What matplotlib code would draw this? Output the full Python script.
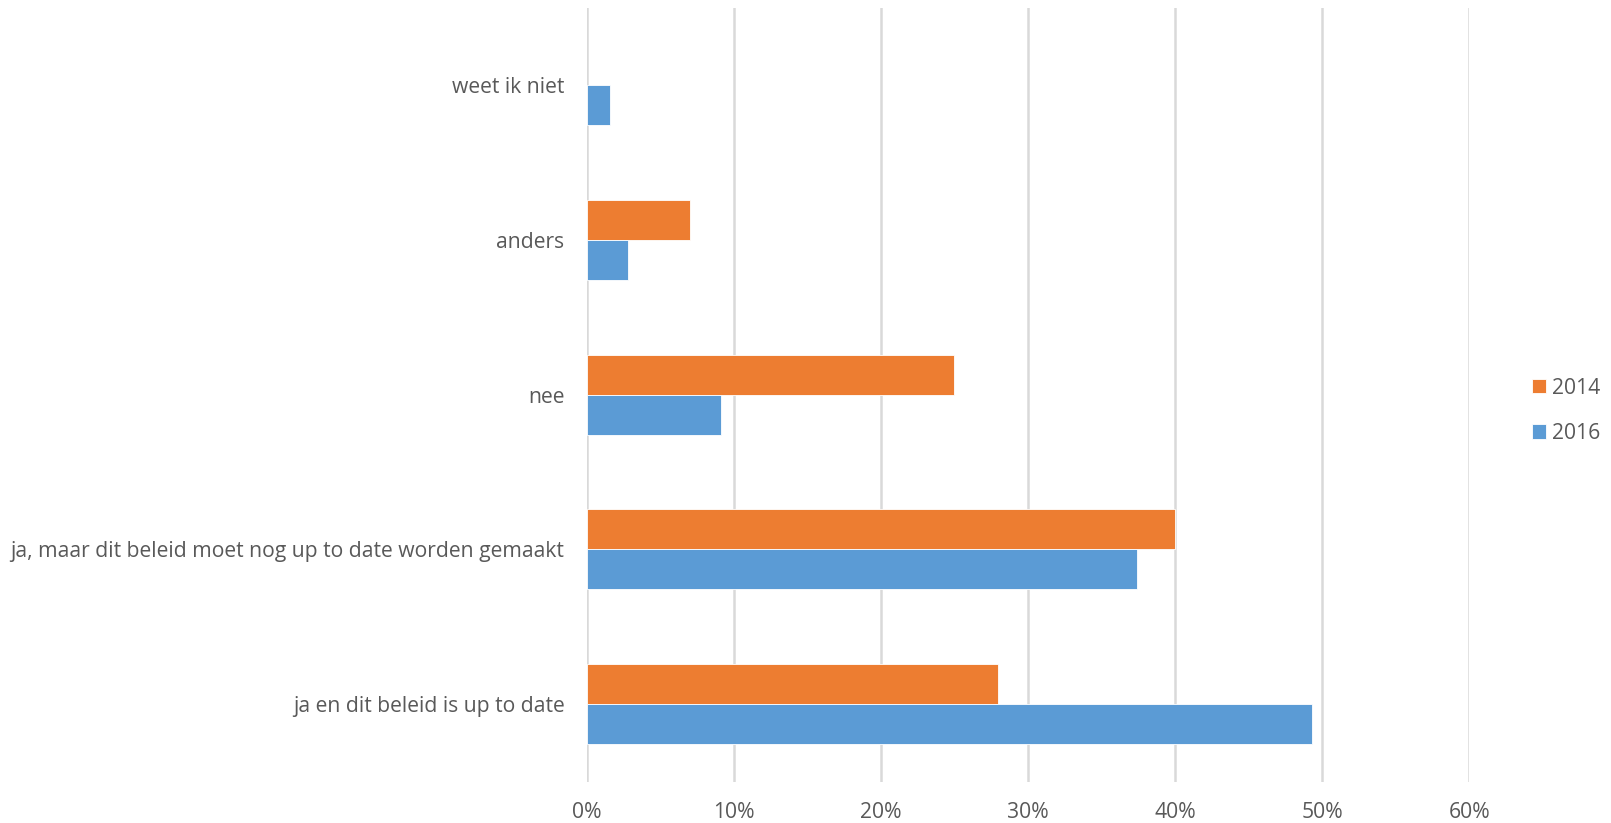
import matplotlib
matplotlib.use("Agg")
import matplotlib.pyplot as plt
from matplotlib.ticker import FuncFormatter, MultipleLocator
import numpy as np

# bottom-to-top order, as drawn
categories = [
    "ja en dit beleid is up to date",
    "ja, maar dit beleid moet nog up to date worden gemaakt",
    "nee",
    "anders",
    "weet ik niet",
]
pct_2014 = [28.0, 40.0, 25.0, 7.0, 0.0]
pct_2016 = [49.3, 37.4, 9.1, 2.8, 1.6]

ORANGE = "#ED7D31"
BLUE = "#5B9BD5"
TEXT = "#595959"
GRID = "#D9D9D9"

plt.rcParams["font.family"] = ["Open Sans", "DejaVu Sans"]

fig = plt.figure(figsize=(16.11, 8.23), dpi=100)
ax = fig.add_axes([0.3642, 0.0504, 0.5477, 0.9401])

y = np.arange(len(categories))
h = 0.258
v14 = np.array(pct_2014) / 100
v16 = np.array(pct_2016) / 100
# no white outline on empty bars, so the 0% gridline stays intact
ax.barh(y + h / 2, v14, height=h, color=ORANGE, edgecolor="white",
        linewidth=[0.6 if v > 0 else 0 for v in v14], label="2014", zorder=3)
ax.barh(y - h / 2, v16, height=h, color=BLUE, edgecolor="white",
        linewidth=[0.6 if v > 0 else 0 for v in v16], label="2016", zorder=3)

ax.set_xlim(0, 0.6)
ax.set_ylim(-0.5, len(categories) - 0.5)
ax.xaxis.set_major_locator(MultipleLocator(0.1))
ax.xaxis.set_major_formatter(FuncFormatter(lambda v, _: f"{v * 100:.0f}%"))
ax.set_yticks(y)
ax.set_yticklabels(categories)

ax.grid(axis="x", color=GRID, linewidth=1.8, zorder=0)
for s in ax.spines.values():
    s.set_visible(False)
ax.tick_params(axis="both", length=0, colors=TEXT, labelsize=15.2)
ax.tick_params(axis="y", pad=16)
ax.tick_params(axis="x", pad=15)

fig.legend(loc="center left", bbox_to_anchor=(1531.7 / 1611, 0.501),
           frameon=False, borderpad=0, borderaxespad=0,
           fontsize=15.2, labelcolor=TEXT, handlelength=0.67, handleheight=0.67,
           handletextpad=0.3, labelspacing=1.15)

fig.savefig("out.png", dpi=100)
